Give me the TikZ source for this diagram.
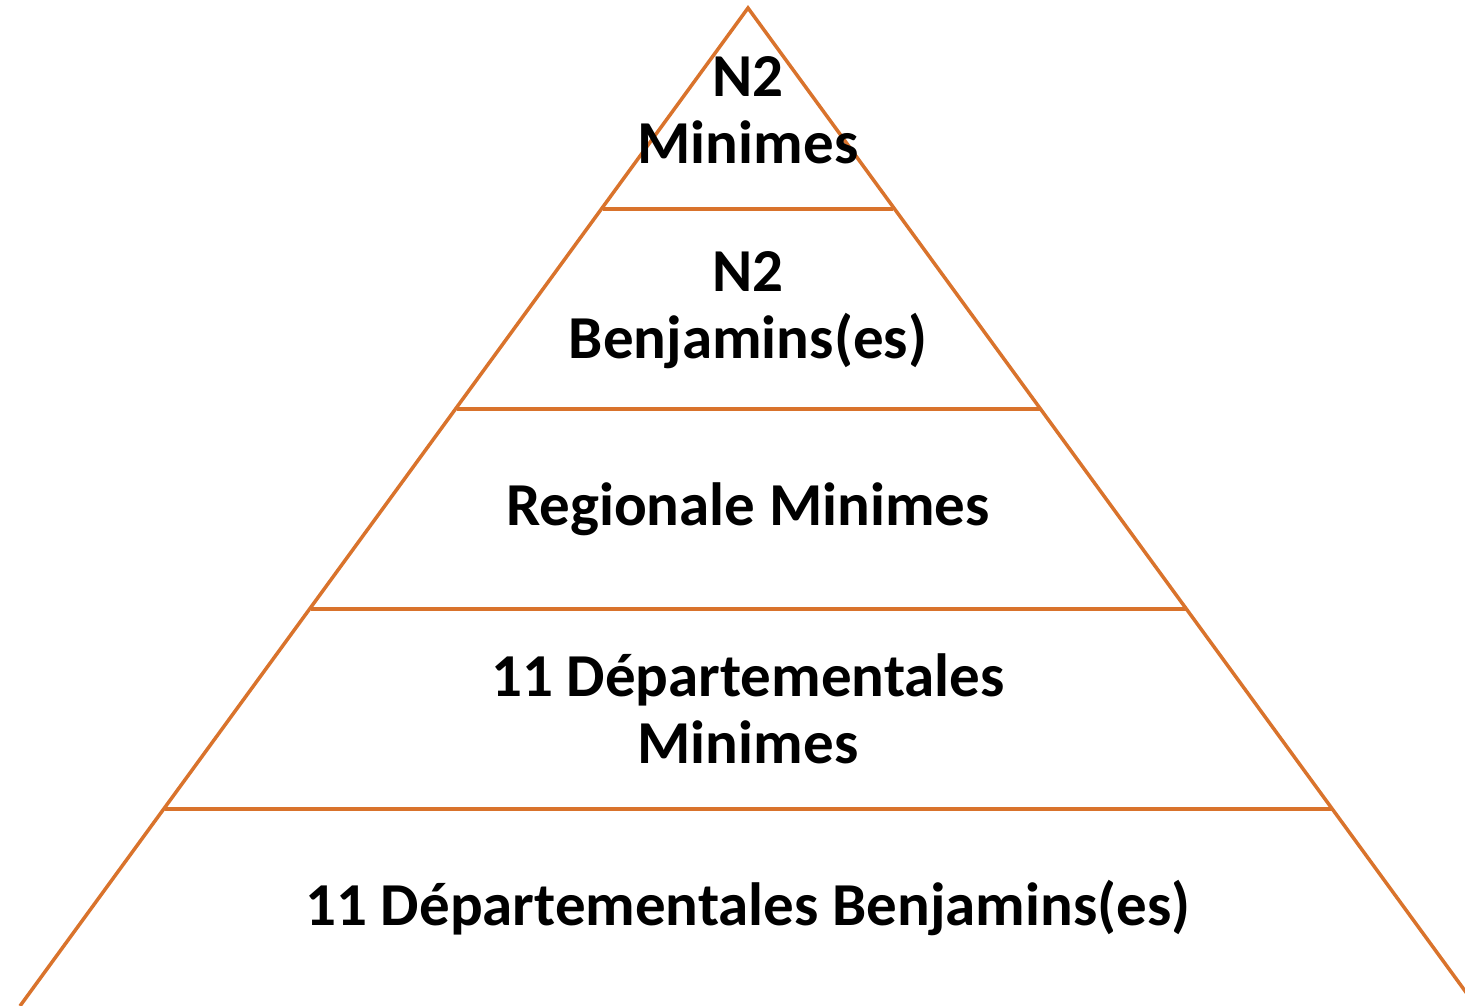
\documentclass[tikz,border=0pt]{standalone}
\usepackage{fontspec}
\setmainfont{Carlito}
\definecolor{pyrorange}{HTML}{D9732C}
\begin{document}
\begin{tikzpicture}[x=1pt, y=-1pt, tier/.style={pyrorange, line width=3.5pt},
    every node/.style={font=\fontsize{61}{67}\selectfont\bfseries, align=center}]
    \useasboundingbox (0,0) rectangle (1465,1006);
    \clip (0,0) rectangle (1465,1006);

    \coordinate (top) at (748,8);
    \coordinate (L1) at (603,209);  \coordinate (R1) at (893,209);
    \coordinate (L2) at (457,409);  \coordinate (R2) at (1040,409);
    \coordinate (L3) at (311,609);  \coordinate (R3) at (1187,609);
    \coordinate (L4) at (165,809);  \coordinate (R4) at (1332,809);
    \coordinate (L5) at (20,1006);  \coordinate (R5) at (1476,1006);

    % outline and tier lines
    \draw[tier, line join=miter] (L5) -- (top) -- (R5);
    \draw[tier] (L1) -- (R1);
    \draw[tier] (L2) -- (R2);
    \draw[tier] (L3) -- (R3);
    \draw[tier] (L4) -- (R4);

    \node (n2min) at (748,110) {N2\\Minimes};
    \node (n2ben) at (748,310) {N2\\Benjamins(es)};
    \node (regmin) at (748,509) {Regionale Minimes};
    \node (depmin) at (748,709) {11 Départementales\\Minimes};
    \node (depben) at (748,908) {11 Départementales Benjamins(es)};
\end{tikzpicture}
\end{document}
